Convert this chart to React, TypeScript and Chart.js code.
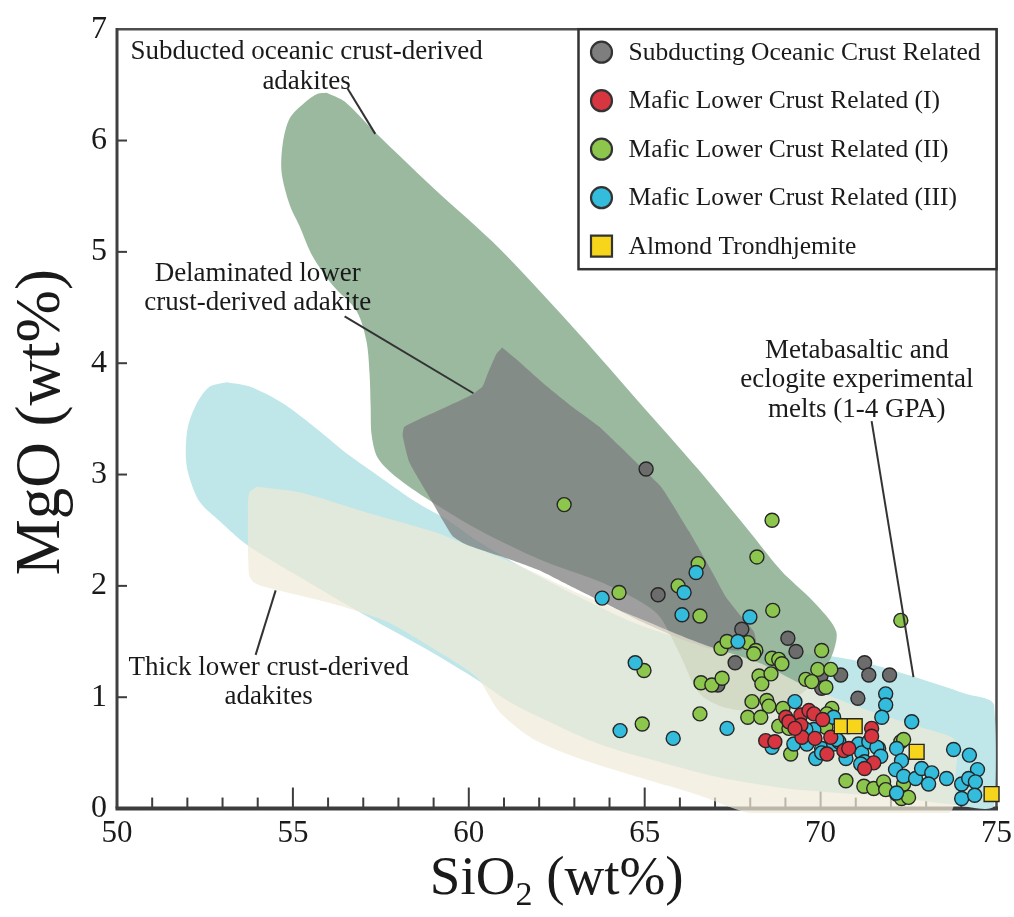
import React, { useEffect, useRef } from 'react';
import { Chart, registerables } from 'chart.js';

Chart.register(...registerables);

const SERIF = '"Liberation Serif", "Times New Roman", Times, serif';
const INK = '#1a1a1a';

// ---- axes ----
const X_MIN = 50;
const X_MAX = 75;
const Y_MIN = 0;
const Y_MAX = 7;
const X_TICKS = [50, 55, 60, 65, 70, 75];
const Y_TICKS = [0, 1, 2, 3, 4, 5, 6, 7];

// ---- sample groups (SiO2 wt%, MgO wt%) ----
const subductingX = [65.04, 65.38, 67.76, 69.07, 69.30, 67.57, 71.25, 70.57, 71.37, 71.96, 71.06, 70.01, 67.08, 70.03];
const subductingY = [3.05, 1.92, 1.61, 1.53, 1.41, 1.31, 1.31, 1.20, 1.20, 1.20, 0.99, 1.19, 1.11, 1.08];

const mafic1X = [68.44, 68.70, 69.01, 69.10, 69.44, 69.67, 69.81, 69.44, 69.47, 69.84, 70.29, 70.18, 70.66, 70.80, 71.45, 71.45, 71.51, 71.25, 69.27, 70.06];
const mafic1Y = [0.61, 0.60, 0.82, 0.78, 0.84, 0.88, 0.85, 0.75, 0.64, 0.63, 0.64, 0.49, 0.52, 0.54, 0.72, 0.65, 0.41, 0.36, 0.72, 0.80];

const mafic2X = [62.71, 68.62, 66.52, 68.19, 64.27, 65.95, 66.57, 68.64, 72.28, 70.03, 67.17, 67.34, 67.93, 68.16, 68.10, 68.62, 68.81, 68.90, 69.92, 70.29, 69.58, 69.75, 70.15, 68.25, 68.33, 68.59, 66.60, 66.91, 67.20, 64.98, 64.93, 66.57, 68.05, 68.47, 68.53, 67.93, 68.30, 68.93, 68.81, 69.10, 69.15, 70.32, 70.18, 70.15, 70.72, 71.23, 71.51, 71.79, 71.85, 72.28, 72.36, 72.16, 72.30, 72.50, 72.36];
const mafic2Y = [2.73, 2.59, 2.20, 2.26, 1.94, 2.00, 1.73, 1.78, 1.69, 1.42, 1.44, 1.50, 1.49, 1.42, 1.39, 1.35, 1.34, 1.30, 1.25, 1.25, 1.16, 1.14, 1.09, 1.19, 1.12, 1.21, 1.13, 1.11, 1.17, 1.24, 0.76, 0.85, 0.96, 0.97, 0.92, 0.82, 0.82, 0.90, 0.74, 0.72, 0.49, 0.90, 0.85, 0.73, 0.25, 0.20, 0.18, 0.24, 0.17, 0.60, 0.62, 0.13, 0.09, 0.10, 0.22];

const mafic3X = [63.79, 66.12, 66.46, 66.06, 67.99, 67.65, 64.73, 64.30, 65.81, 67.34, 69.27, 70.37, 68.62, 69.24, 69.86, 69.61, 70.03, 70.37, 70.52, 70.72, 71.08, 71.17, 71.37, 71.65, 71.25, 70.03, 69.81, 69.58, 71.85, 71.85, 71.74, 72.59, 73.78, 74.23, 74.46, 72.16, 72.30, 72.13, 72.36, 72.70, 72.87, 73.16, 73.07, 73.58, 74.01, 74.21, 74.40, 74.01, 74.38, 72.16, 71.60, 71.71, 70.46, 71.14];
const mafic3Y = [1.89, 1.94, 2.12, 1.74, 1.72, 1.50, 1.31, 0.70, 0.63, 0.72, 0.96, 0.82, 0.55, 0.58, 0.45, 0.58, 0.54, 0.58, 0.60, 0.45, 0.58, 0.50, 0.60, 0.54, 0.42, 0.50, 0.71, 0.71, 1.03, 0.93, 0.82, 0.78, 0.53, 0.48, 0.35, 0.54, 0.43, 0.35, 0.29, 0.27, 0.36, 0.32, 0.22, 0.27, 0.22, 0.27, 0.24, 0.09, 0.12, 0.14, 0.55, 0.47, 0.62, 0.40];

const almondX = [70.60, 70.97, 72.73, 74.86];
const almondY = [0.74, 0.74, 0.51, 0.13];

// ---- compositional fields (outline vertices) ----
const meltFieldX = [53.12, 53.77, 54.71, 55.68, 56.61, 57.55, 58.51, 59.45, 60.16, 61.44, 63.14, 64.84, 66.26, 67.68, 69.10, 70.23, 71.28, 72.59, 74.12, 74.93, 74.93, 73.64, 72.22, 70.52, 68.81, 67.11, 65.41, 63.71, 62.29, 61.15, 60.22, 58.97, 57.09, 55.19, 53.69, 52.92, 52.36, 52.07, 51.96, 52.01, 52.27, 52.64];
const meltFieldY = [3.83, 3.79, 3.64, 3.41, 3.17, 2.96, 2.75, 2.58, 2.42, 2.18, 1.90, 1.65, 1.51, 1.44, 1.40, 1.37, 1.31, 1.19, 1.03, 0.93, 0.02, 0.04, 0.10, 0.14, 0.19, 0.28, 0.42, 0.58, 0.78, 0.96, 1.16, 1.40, 1.73, 2.08, 2.37, 2.58, 2.75, 2.96, 3.14, 3.42, 3.64, 3.79];

const slabFieldX = [55.96, 56.47, 57.38, 58.97, 60.87, 63.14, 64.84, 66.54, 68.05, 68.90, 69.67, 70.29, 70.46, 70.29, 69.81, 69.10, 68.25, 67.25, 66.54, 65.98, 65.41, 64.76, 63.71, 62.00, 60.30, 58.88, 57.89, 57.41, 57.24, 57.21, 57.18, 57.09, 56.81, 56.13, 55.56, 55.19, 54.91, 54.68, 54.71, 54.91, 55.33, 55.70];
const slabFieldY = [6.43, 6.35, 6.06, 5.58, 5.03, 4.26, 3.65, 3.04, 2.46, 2.13, 1.90, 1.68, 1.56, 1.35, 1.13, 0.96, 0.88, 0.91, 1.04, 1.40, 1.73, 1.88, 2.04, 2.24, 2.50, 2.77, 2.99, 3.15, 3.35, 3.61, 3.90, 4.20, 4.47, 4.70, 4.96, 5.23, 5.42, 5.71, 5.97, 6.20, 6.34, 6.42];

const delamFieldX = [60.95, 61.44, 62.15, 62.85, 63.71, 64.27, 64.98, 65.49, 66.26, 66.91, 67.31, 67.68, 68.10, 68.16, 67.68, 66.83, 65.98, 64.84, 63.90, 62.94, 62.00, 60.87, 59.93, 59.53, 58.80, 58.31, 58.12, 58.17, 59.17, 60.10, 60.39, 60.53, 60.78];
const delamFieldY = [4.14, 4.01, 3.81, 3.63, 3.43, 3.26, 3.04, 2.88, 2.49, 2.13, 1.90, 1.75, 1.59, 1.49, 1.42, 1.44, 1.53, 1.69, 1.84, 1.99, 2.14, 2.27, 2.37, 2.45, 2.84, 3.11, 3.35, 3.43, 3.58, 3.72, 3.79, 3.90, 4.08];

const thickFieldX = [53.97, 55.19, 57.09, 58.97, 59.93, 60.87, 61.80, 63.14, 64.84, 66.54, 68.25, 69.38, 70.52, 71.65, 73.07, 73.78, 73.89, 73.84, 73.64, 68.05, 66.54, 64.84, 63.14, 61.80, 60.87, 60.22, 58.97, 57.66, 56.13, 54.11, 53.86, 53.75, 53.72, 53.77];
const thickFieldY = [2.89, 2.84, 2.66, 2.49, 2.37, 2.26, 2.13, 1.93, 1.71, 1.49, 1.31, 1.13, 0.98, 0.85, 0.71, 0.63, 0.51, 0.34, -0.04, -0.04, 0.12, 0.28, 0.45, 0.63, 0.87, 1.18, 1.44, 1.68, 1.84, 2.00, 2.04, 2.11, 2.73, 2.84];

// ---- field labels: text lines, anchor (centre x, first baseline y) and leader line ----
const NOTES = [
  { lines: ['Subducted oceanic crust-derived', 'adakites'], at: [55.39, 6.73], leader: [[56.55, 6.47], [57.34, 6.06]] },
  { lines: ['Delaminated lower', 'crust-derived adakite'], at: [54.0, 4.74], leader: [[56.47, 4.42], [60.13, 3.73]] },
  { lines: ['Thick lower crust-derived', 'adakites'], at: [54.31, 1.20], leader: [[53.94, 1.38], [54.51, 1.96]] },
  { lines: ['Metabasaltic and', 'eclogite experimental', 'melts (1-4 GPA)'], at: [71.03, 4.05], leader: [[71.45, 3.48], [72.64, 1.18]] },
];

type Series = { label: string; xs: number[]; ys: number[]; color: string; style: 'circle' | 'rect'; order: number };

const SERIES: Series[] = [
  { label: 'Subducting Oceanic Crust Related', xs: subductingX, ys: subductingY, color: '#6c6c6c', style: 'circle', order: 4 },
  { label: 'Mafic Lower Crust Related (I)', xs: mafic1X, ys: mafic1Y, color: '#d7353f', style: 'circle', order: 1 },
  { label: 'Mafic Lower Crust Related (II)', xs: mafic2X, ys: mafic2Y, color: '#8dc64c', style: 'circle', order: 3 },
  { label: 'Mafic Lower Crust Related (III)', xs: mafic3X, ys: mafic3Y, color: '#33bcdc', style: 'circle', order: 2 },
  { label: 'Almond Trondhjemite', xs: almondX, ys: almondY, color: '#f7d51b', style: 'rect', order: 0 },
];

const zip = (xs: number[], ys: number[]) => xs.map((x, i) => ({ x, y: ys[i] }));
const ring = (xs: number[], ys: number[]) => {
  const p = zip(xs, ys);
  return [...p, p[0]];
};

const field = (label: string, xs: number[], ys: number[], color: string, order: number, tension: number) => ({
  label,
  data: ring(xs, ys),
  showLine: true,
  fill: 'shape',
  backgroundColor: color,
  borderColor: 'rgba(0,0,0,0)',
  borderWidth: 0,
  pointRadius: 0,
  pointHoverRadius: 0,
  tension,
  order,
});

// frame, bottom axis line and inward tick marks (under the fields and points)
const framePlugin = {
  id: 'frame',
  beforeDatasetsDraw(chart: any) {
    const { ctx } = chart;
    const xs = chart.scales.x;
    const ys = chart.scales.y;
    const L = xs.getPixelForValue(X_MIN);
    const R = xs.getPixelForValue(X_MAX);
    const B = ys.getPixelForValue(Y_MIN);
    const T = ys.getPixelForValue(Y_MAX);
    ctx.save();
    ctx.lineCap = 'butt';
    ctx.strokeStyle = '#4d4d4d';
    ctx.lineWidth = 2.5;
    ctx.beginPath();
    ctx.moveTo(L, T);
    ctx.lineTo(R, T);
    ctx.lineTo(R, B);
    ctx.stroke();
    ctx.strokeStyle = '#404040';
    ctx.lineWidth = 3;
    ctx.beginPath();
    ctx.moveTo(L, T - 1.2);
    ctx.lineTo(L, B);
    ctx.stroke();
    ctx.lineWidth = 4;
    ctx.strokeStyle = '#3d3d3d';
    ctx.beginPath();
    ctx.moveTo(L - 1.5, B);
    ctx.lineTo(R + 1.5, B);
    ctx.stroke();
    ctx.lineWidth = 2;
    ctx.strokeStyle = '#3d3d3d';
    for (let v = X_MIN + 1; v < X_MAX; v++) {
      const px = xs.getPixelForValue(v);
      const len = v % 5 === 0 ? 21 : 11;
      ctx.beginPath();
      ctx.moveTo(px, B);
      ctx.lineTo(px, B - len);
      ctx.stroke();
    }
    for (let v = Y_MIN + 1; v < Y_MAX; v++) {
      const py = ys.getPixelForValue(v);
      ctx.beginPath();
      ctx.moveTo(L, py);
      ctx.lineTo(L + 10, py);
      ctx.stroke();
    }
    ctx.restore();
  },
};

// field labels with leader lines, the legend box and the axis titles
const overlayPlugin = {
  id: 'overlay',
  afterDatasetsDraw(chart: any) {
    const { ctx, chartArea } = chart;
    const xs = chart.scales.x;
    const ys = chart.scales.y;
    ctx.save();
    ctx.strokeStyle = '#333';
    ctx.lineWidth = 2;
    ctx.fillStyle = INK;
    ctx.font = `27px ${SERIF}`;
    ctx.textAlign = 'center';
    ctx.textBaseline = 'alphabetic';
    for (const n of NOTES) {
      const cx = xs.getPixelForValue(n.at[0]);
      const by = ys.getPixelForValue(n.at[1]);
      n.lines.forEach((t, i) => ctx.fillText(t, cx, by + i * 29.5));
      ctx.beginPath();
      ctx.moveTo(xs.getPixelForValue(n.leader[0][0]), ys.getPixelForValue(n.leader[0][1]));
      ctx.lineTo(xs.getPixelForValue(n.leader[1][0]), ys.getPixelForValue(n.leader[1][1]));
      ctx.stroke();
    }

    // legend
    const boxR = chartArea.right;
    const boxT = chartArea.top;
    const boxL = boxR - 418;
    const boxB = boxT + 240;
    ctx.fillStyle = '#ffffff';
    ctx.fillRect(boxL, boxT, boxR - boxL, boxB - boxT);
    ctx.strokeStyle = '#333';
    ctx.lineWidth = 2.5;
    ctx.strokeRect(boxL, boxT, boxR - boxL, boxB - boxT);
    ctx.font = `25.5px ${SERIF}`;
    ctx.textAlign = 'left';
    ctx.textBaseline = 'middle';
    SERIES.forEach((s, i) => {
      const cy = boxT + 23 + i * 48.5;
      const mx = boxL + 23;
      ctx.fillStyle = i === 0 ? '#7e7e7e' : s.color;
      ctx.strokeStyle = '#333';
      ctx.lineWidth = 2.2;
      ctx.beginPath();
      if (s.style === 'rect') {
        ctx.rect(mx - 10.5, cy - 10.5, 21, 21);
      } else {
        ctx.arc(mx, cy, 10.5, 0, Math.PI * 2);
      }
      ctx.fill();
      ctx.stroke();
      ctx.fillStyle = INK;
      ctx.fillText(s.label, boxL + 50, cy + 1);
    });
    ctx.restore();
  },
  afterDraw(chart: any) {
    const { ctx, chartArea } = chart;
    ctx.save();
    ctx.fillStyle = INK;
    ctx.textBaseline = 'alphabetic';
    // y title
    ctx.font = `63px ${SERIF}`;
    ctx.textAlign = 'center';
    ctx.translate(chartArea.left - 58, (chartArea.top + chartArea.bottom) / 2 + 1);
    ctx.rotate(-Math.PI / 2);
    ctx.fillText('MgO (wt%)', 0, 0);
    ctx.setTransform(1, 0, 0, 1, 0, 0);
    // x title with subscript
    const big = `55px ${SERIF}`;
    const small = `34px ${SERIF}`;
    ctx.font = big;
    const w1 = ctx.measureText('SiO').width;
    const w3 = ctx.measureText(' (wt%)').width;
    ctx.font = small;
    const w2 = ctx.measureText('2').width;
    const total = w1 + w2 + w3;
    const cx = (chartArea.left + chartArea.right) / 2;
    const base = 894;
    let x0 = cx - total / 2;
    ctx.textAlign = 'left';
    ctx.font = big;
    ctx.fillText('SiO', x0, base);
    x0 += w1;
    ctx.font = small;
    ctx.fillText('2', x0, base + 11);
    x0 += w2;
    ctx.font = big;
    ctx.fillText(' (wt%)', x0, base);
    ctx.restore();
  },
};

export default function App() {
  const ref = useRef<HTMLCanvasElement | null>(null);

  useEffect(() => {
    if (!ref.current) return;
    const fields = [
      field('Metabasaltic and eclogite experimental melts', meltFieldX, meltFieldY, 'rgb(191,230,232)', 13, 0.3),
      field('Subducted oceanic crust-derived adakites', slabFieldX, slabFieldY, 'rgba(137,173,143,0.86)', 12, 0.3),
      field('Delaminated lower crust-derived adakite', delamFieldX, delamFieldY, 'rgba(125,126,127,0.74)', 11, 0.15),
      field('Thick lower crust-derived adakites', thickFieldX, thickFieldY, 'rgba(239,233,215,0.7)', 10, 0.25),
    ];
    const points = SERIES.map((s) => ({
      label: s.label,
      data: zip(s.xs, s.ys),
      showLine: false,
      pointStyle: s.style,
      pointRadius: s.style === 'rect' ? 10.5 : 7,
      pointBorderWidth: 1.4,
      pointBackgroundColor: s.color,
      pointBorderColor: '#262626',
      backgroundColor: s.color,
      borderColor: '#262626',
      order: s.order,
      clip: false,
    }));

    const chart = new Chart(ref.current, {
      type: 'scatter',
      data: { datasets: [...fields, ...points] as any },
      options: {
        responsive: false,
        animation: false,
        devicePixelRatio: 1,
        events: [],
        layout: { padding: { left: 0, top: 17, right: 16, bottom: 0 } },
        plugins: { legend: { display: false }, tooltip: { enabled: false } },
        scales: {
          x: {
            type: 'linear',
            min: X_MIN,
            max: X_MAX,
            afterBuildTicks: (s: any) => {
              s.ticks = X_TICKS.map((value) => ({ value }));
            },
            afterFit: (s: any) => {
              s.height = 104;
            },
            ticks: { color: INK, font: { family: SERIF, size: 31 }, padding: 2, maxRotation: 0, autoSkip: false },
            grid: { display: false, drawTicks: false },
            border: { display: false },
          },
          y: {
            type: 'linear',
            min: -0.04,
            max: Y_MAX,
            afterBuildTicks: (s: any) => {
              s.ticks = Y_TICKS.map((value) => ({ value }));
            },
            afterFit: (s: any) => {
              s.width = 117;
            },
            ticks: { color: INK, font: { family: SERIF, size: 32 }, padding: 10, autoSkip: false },
            grid: { display: false, drawTicks: false },
            border: { display: false },
          },
        },
      } as any,
      plugins: [framePlugin, overlayPlugin],
    });
    return () => chart.destroy();
  }, []);

  return (
    <div style={{ position: 'absolute', left: 0, top: 0, width: 1014, height: 917, background: '#fff' }}>
      <canvas ref={ref} width={1014} height={917} style={{ width: 1014, height: 917, display: 'block' }} />
    </div>
  );
}
